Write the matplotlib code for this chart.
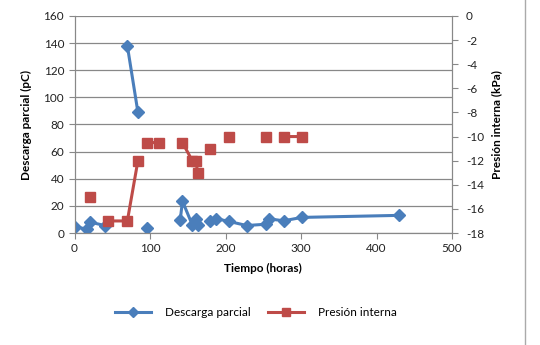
import numpy as np
import matplotlib
matplotlib.use("Agg")
import matplotlib.pyplot as plt
from matplotlib.lines import Line2D

nan = np.nan

# tiempo (horas)
tiempo = [0, 16, 21, 40, 45, 70, 84, 90, 96, 112, 140, 143, 156, 161, 163,
          170, 180, 188, 205, 228, 254, 257, 277, 301, 430]
# descarga parcial (pC)
descarga = [4.5, 3, 8, 5.5, nan, 138, 89, nan, 3.5, nan, 9.5, 23.5, 6, 10.5, 6,
            nan, 9, 10.5, 8.5, 5.5, 6.5, 10.5, 9, 11.5, 13]
# presion interna (kPa)
presion = [nan, nan, -15, nan, -17, -17, -12, nan, -10.5, -10.5, nan, -10.5, -12, -12, -13,
           nan, -11, nan, -10, nan, -10, nan, -10, -10, nan]

azul = "#4A7EBB"
rojo = "#BE4B48"
gris = "#888888"

plt.rcParams['font.family'] = ['Lato', 'DejaVu Sans']
plt.rcParams['font.size'] = 8.5
plt.rcParams['axes.unicode_minus'] = False

fig = plt.figure(figsize=(5.4, 3.45), dpi=100)
ax = fig.add_axes([74.5/540, 1-233/345, (452-74.5)/540, 217/345])
ax2 = ax.twinx()

ax.plot(tiempo, descarga, color=azul, lw=2.2, marker="D", ms=6, zorder=3)
ax2.plot(tiempo, presion, color=rojo, lw=2.2, marker="s", ms=7.5, zorder=3)

ax.set_xlim(0, 500)
ax.set_ylim(0, 160)
ax2.set_ylim(-18, 0)
ax.set_xticks(range(0, 501, 100))
ax.set_yticks(range(0, 161, 20))
ax2.set_yticks(range(-18, 1, 2))

ax.grid(axis="y", color=gris, lw=0.9)
ax.set_axisbelow(True)
for a in (ax, ax2):
    for s in a.spines.values():
        s.set_color(gris)
    a.spines["top"].set_visible(False)
    a.tick_params(color=gris, length=4, labelsize=8.5, labelcolor="#222222")
ax2.tick_params(pad=6)

ax.set_xlabel("Tiempo (horas)", fontweight="bold", labelpad=6)
ax.set_ylabel("Descarga parcial (pC)", fontweight="bold", labelpad=8)
ax2.set_ylabel("Presión interna (kPa)", fontweight="bold", labelpad=5)

handles = [Line2D([], [], color=azul, lw=2.2, marker="D", ms=5),
           Line2D([], [], color=rojo, lw=2.2, marker="s", ms=6)]
fig.legend(handles, ["Descarga parcial", "Presión interna"], loc="center",
           bbox_to_anchor=(256/540, 1-313/345), ncol=2, frameon=False,
           handlelength=3, columnspacing=1.5, handletextpad=1.2, fontsize=8.5)

fig.add_artist(Line2D([525/540, 525/540], [0, 1], color="#AAAAAA", lw=1))

fig.savefig("out.png", dpi=100)
